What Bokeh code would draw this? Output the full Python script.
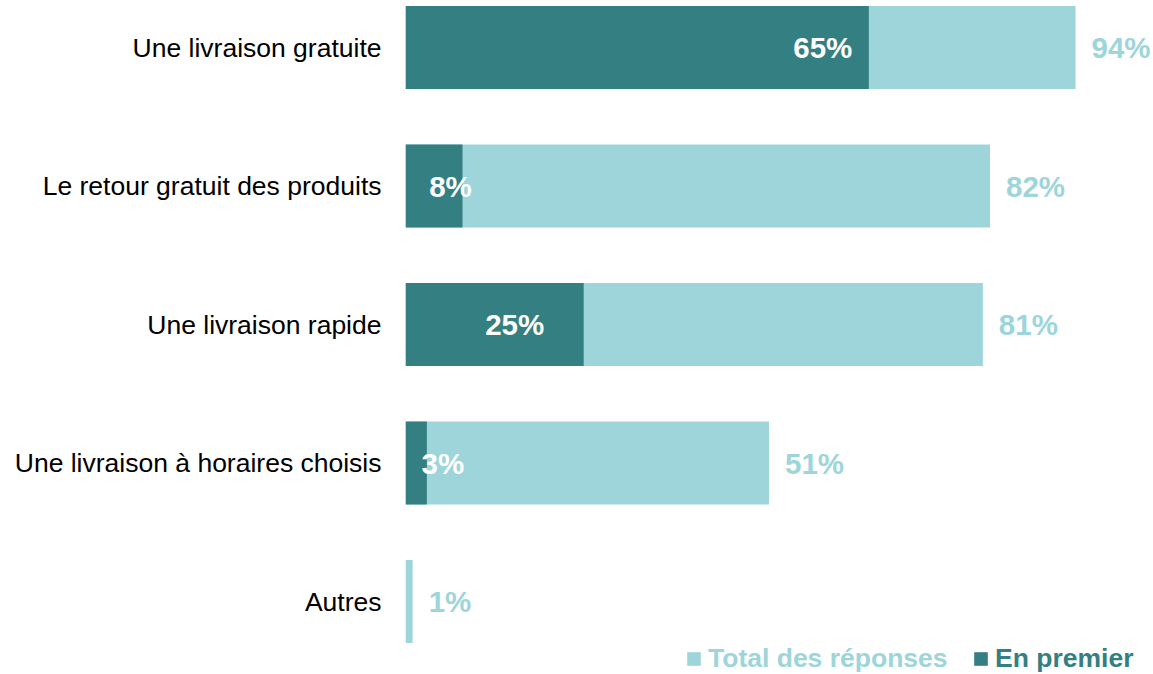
from bokeh.plotting import figure
from bokeh.models import (ColumnDataSource, Range1d, FixedTicker, Legend, LegendItem)
from bokeh.core.properties import value
from bokeh.embed import file_html
from bokeh.resources import INLINE

# ---- data ----
categories = ["Une livraison gratuite", "Le retour gratuit des produits",
              "Une livraison rapide", "Une livraison à horaires choisis", "Autres"]
total_reponses = [94, 82, 81, 51, 1]
en_premier = [65, 8, 25, 3, 0]

# ---- styles ----
LIGHT = "#9DD5DA"
DARK = "#347F82"
FONT = "Liberation Sans"
dark_label_dx = [-46, -12, -69, 16, 0]   # pixel offsets of the inner labels from bar end

n = len(categories)
ypos = [n - 1 - i for i in range(n)]

src = ColumnDataSource(dict(
    y=ypos,
    total=total_reponses,
    first=en_premier,
    total_lbl=[f"{v}%" for v in total_reponses],
))
dark_idx = [i for i, v in enumerate(en_premier) if v > 0]
src_dark = ColumnDataSource(dict(
    y=[ypos[i] for i in dark_idx],
    first=[en_premier[i] for i in dark_idx],
    lbl=[f"{en_premier[i]}%" for i in dark_idx],
    dx=[dark_label_dx[i] for i in dark_idx],
))

p = figure(width=1152, height=674, output_backend="svg", toolbar_location=None,
           x_range=Range1d(0, 104.8), y_range=Range1d(-0.527, 4.3394),
           min_border_left=405, min_border_right=0, min_border_top=0, min_border_bottom=0)
p.outline_line_color = None
p.grid.visible = False
p.xaxis.visible = False
p.background_fill_color = "white"
p.border_fill_color = "white"

r_total = p.hbar(y="y", left=0, right="total", height=0.6, source=src,
                 fill_color=LIGHT, line_color=None)
r_first = p.hbar(y="y", left=0, right="first", height=0.6, source=src,
                 fill_color=DARK, line_color=None)

p.text(x="total", y="y", text="total_lbl", source=src, x_offset=16,
       text_align="left", text_baseline="middle", text_color=LIGHT,
       text_font=value(FONT), text_font_style="bold", text_font_size="29.5px")
p.text(x="first", y="y", text="lbl", source=src_dark, x_offset="dx",
       text_align="center", text_baseline="middle", text_color="white",
       text_font=value(FONT), text_font_style="bold", text_font_size="29.5px")

ax = p.yaxis[0]
ax.ticker = FixedTicker(ticks=ypos)
ax.major_label_overrides = {y: c for y, c in zip(ypos, categories)}
ax.axis_line_color = None
ax.major_tick_line_color = None
ax.minor_tick_line_color = None
ax.major_tick_out = 0
ax.major_tick_in = 0
ax.major_label_standoff = 24
ax.major_label_text_font = FONT
ax.major_label_text_font_size = "26.5px"
ax.major_label_text_color = "black"

def make_legend(label, renderer, color, loc):
    lg = Legend(items=[LegendItem(label=label, renderers=[renderer])],
                location=loc, orientation="horizontal",
                label_text_color=color, label_text_font=FONT,
                label_text_font_style="bold", label_text_font_size="26.5px",
                glyph_width=17, glyph_height=17, label_standoff=6,
                padding=0, margin=0, spacing=0,
                border_line_color=None, background_fill_alpha=0)
    p.add_layout(lg, "center")

make_legend("Total des réponses", r_total, LIGHT, (280, 0))
make_legend("En premier", r_first, DARK, (567, 0))

open("out.html", "w").write(file_html(p, INLINE))
